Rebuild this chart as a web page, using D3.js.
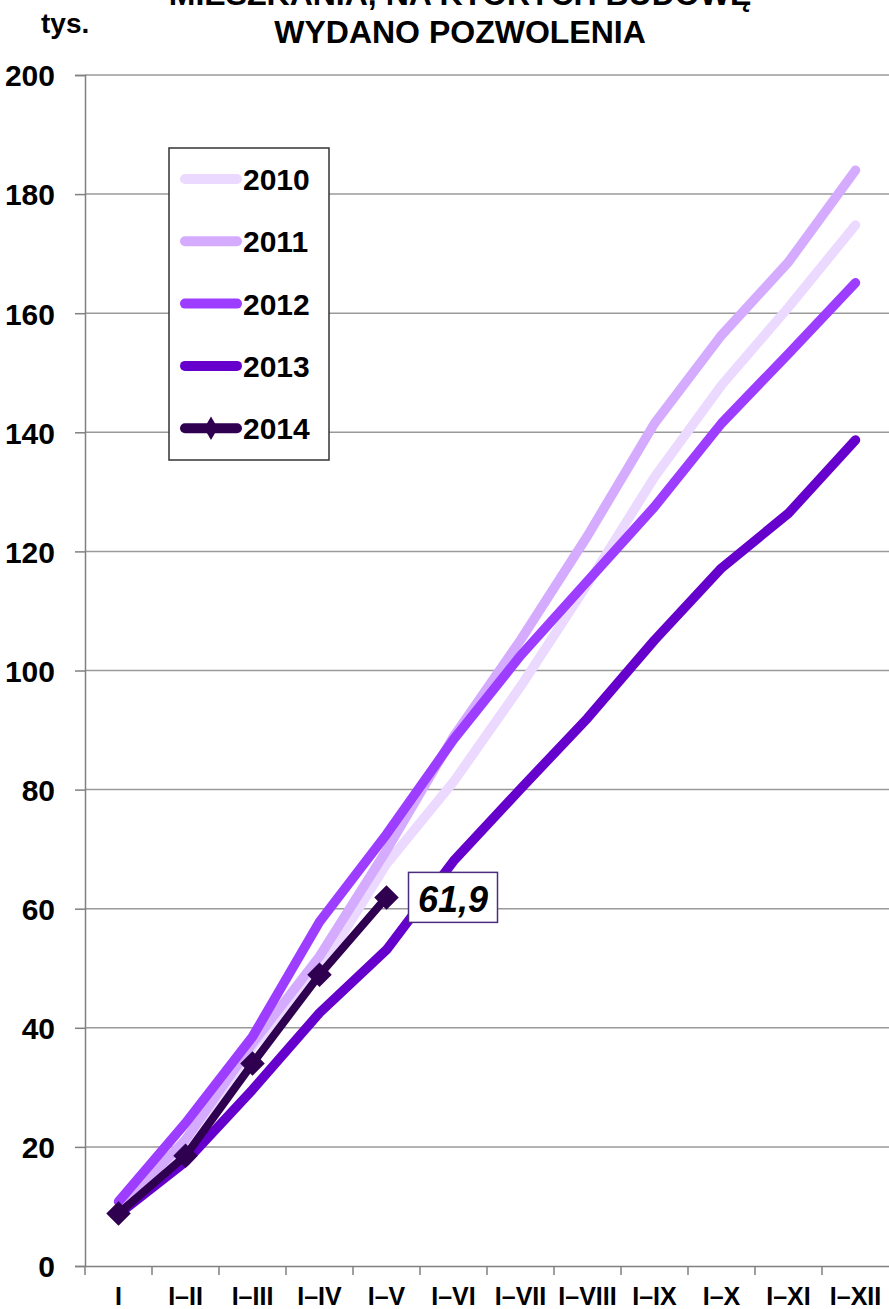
<!DOCTYPE html>
<html lang="pl">
<head>
  <meta charset="utf-8">
  <title>Mieszkania, na których budowę wydano pozwolenia</title>
  <script src="https://cdn.jsdelivr.net/npm/d3@7/dist/d3.min.js"></script>
  <style>
    body { margin: 0; background: #fff; }
    text { font-family: Arial, "Liberation Sans", sans-serif; font-weight: bold; fill: #000; }
  </style>
</head>
<body>
  <svg class="chart" width="889" height="1309"></svg>
  <script>
    var width = 889, height = 1309;
    var margin = { top: 75, right: 0, bottom: 43, left: 85 };

    var months = ["I", "I\u2013II", "I\u2013III", "I\u2013IV", "I\u2013V", "I\u2013VI",
                  "I\u2013VII", "I\u2013VIII", "I\u2013IX", "I\u2013X", "I\u2013XI", "I\u2013XII"];
    var years = ["2010", "2011", "2012", "2013", "2014"];
    var yTicks = [0, 20, 40, 60, 80, 100, 120, 140, 160, 180, 200];

    var v2010 = [9.2, 20.6, 36.8, 49.5, 67.5, 81.3, 97.3, 114.5, 132.5, 147.9, 161.0, 174.8];
    var v2011 = [9.5, 21.2, 37.4, 52.0, 69.8, 88.9, 105.1, 122.6, 141.5, 156.3, 168.6, 184.0];
    var v2012 = [10.8, 24.0, 38.5, 57.8, 72.5, 88.4, 102.5, 115.0, 127.5, 141.5, 153.2, 165.1];
    var v2013 = [8.7, 17.5, 29.6, 42.5, 53.1, 68.0, 80.1, 92.0, 105.1, 117.2, 126.4, 138.7];
    var v2014 = [8.8, 18.5, 34.0, 48.9, 61.9];

    var colors = ["#ebd9ff", "#d4abff", "#9d3dff", "#6600cc", "#2e004f"];

    var series = [v2010, v2011, v2012, v2013, v2014].map(function(vals, i) {
      return { year: years[i], color: colors[i],
               values: vals.map(function(v, j) { return { month: months[j], value: v }; }) };
    });

    var svg = d3.select("svg.chart");

    var x = d3.scaleBand()
              .domain(months)
              .range([margin.left, width - margin.right]);

    var y = d3.scaleLinear()
              .domain([0, 200])
              .range([height - margin.bottom - 0, margin.top]);

    function cx(m) { return x(m) + x.bandwidth() / 2; }

    // gridlines
    svg.append("g")
       .selectAll("line")
       .data(yTicks.slice(1))
       .enter().append("line")
       .attr("x1", margin.left).attr("x2", width - margin.right)
       .attr("y1", function(d) { return y(d); })
       .attr("y2", function(d) { return y(d); })
       .attr("stroke", "#9a9a9a")
       .attr("stroke-width", 1.5);

    // y axis
    var yAxis = svg.append("g")
                   .attr("transform", "translate(" + margin.left + ",0)")
                   .call(d3.axisLeft(y).tickValues(yTicks).tickSize(10).tickPadding(20));
    yAxis.select(".domain").attr("stroke", "#808080").attr("stroke-width", 1.5);
    yAxis.selectAll(".tick line").attr("stroke", "#808080").attr("stroke-width", 1.5);
    yAxis.selectAll(".tick text")
         .attr("font-size", 30)
         .attr("font-family", "Arial, 'Liberation Sans', sans-serif")
         .attr("font-weight", "bold")
         .attr("fill", "#000")
         .attr("dy", "0.36em");

    // x axis
    var xAxis = svg.append("g")
                   .attr("transform", "translate(0," + y(0) + ")")
                   .call(d3.axisBottom(x).tickSize(0).tickPadding(0));
    xAxis.select(".domain").attr("stroke", "#808080").attr("stroke-width", 1.5);
    xAxis.selectAll(".tick text")
         .attr("font-size", 25)
         .attr("font-family", "Arial, 'Liberation Sans', sans-serif")
         .attr("font-weight", "bold")
         .attr("fill", "#000")
         .attr("y", 39)
         .attr("dy", 0);
    xAxis.selectAll(".sep")
         .data(months)
         .enter().append("line")
         .attr("class", "sep")
         .attr("x1", function(d) { return x(d); })
         .attr("x2", function(d) { return x(d); })
         .attr("y1", 0).attr("y2", 9)
         .attr("stroke", "#808080")
         .attr("stroke-width", 1.5);

    // lines
    var line = d3.line()
                 .x(function(d) { return cx(d.month); })
                 .y(function(d) { return y(d.value); });

    svg.append("g")
       .selectAll("path")
       .data(series)
       .enter().append("path")
       .attr("d", function(d) { return line(d.values); })
       .attr("fill", "none")
       .attr("stroke", function(d) { return d.color; })
       .attr("stroke-width", function(d) { return d.year === "2014" ? 8 : 9.5; })
       .attr("stroke-linejoin", "round")
       .attr("stroke-linecap", "round");

    // 2014 markers
    var diamond = d3.symbol().type(d3.symbolSquare).size(300);
    svg.append("g")
       .selectAll("path")
       .data(series[4].values)
       .enter().append("path")
       .attr("d", diamond)
       .attr("transform", function(d) {
         return "translate(" + cx(d.month) + "," + y(d.value) + ") rotate(45)";
       })
       .attr("fill", colors[4]);

    // value label of the last 2014 point
    var last = series[4].values[series[4].values.length - 1];
    var lx = cx(last.month) + 22, ly = y(last.value);
    svg.append("rect")
       .attr("x", lx).attr("y", ly - 25)
       .attr("width", 89).attr("height", 50)
       .attr("fill", "#fff")
       .attr("stroke", "#4b2c7f")
       .attr("stroke-width", 1.5);
    svg.append("text")
       .attr("x", lx + 44.5).attr("y", ly + 15)
       .attr("text-anchor", "middle")
       .attr("font-size", 36)
       .attr("font-style", "italic")
       .text(d3.format(".1f")(last.value).replace(".", ","));

    // legend
    var legend = svg.append("g");
    legend.append("rect")
          .attr("x", 169).attr("y", 148)
          .attr("width", 160).attr("height", 312)
          .attr("fill", "#fff")
          .attr("stroke", "#333")
          .attr("stroke-width", 1.5);
    var item = legend.selectAll(".item")
                     .data(series)
                     .enter().append("g")
                     .attr("class", "item")
                     .attr("transform", function(d, i) { return "translate(0," + (179 + i * 62.3) + ")"; });
    item.append("line")
        .attr("x1", 185).attr("x2", 237)
        .attr("stroke", function(d) { return d.color; })
        .attr("stroke-width", 10)
        .attr("stroke-linecap", "round");
    item.filter(function(d) { return d.year === "2014"; })
        .append("path")
        .attr("d", d3.symbol().type(d3.symbolDiamond).size(160))
        .attr("transform", "translate(211,0)")
        .attr("fill", colors[4]);
    item.append("text")
        .attr("x", 243).attr("y", 11)
        .attr("font-size", 30)
        .text(function(d) { return d.year; });

    // titles
    svg.append("text")
       .attr("x", 460).attr("y", 5)
       .attr("text-anchor", "middle")
       .attr("font-size", 32)
       .text("MIESZKANIA, NA KTÓRYCH BUDOWĘ");
    svg.append("text")
       .attr("x", 460).attr("y", 43)
       .attr("text-anchor", "middle")
       .attr("font-size", 32)
       .text("WYDANO POZWOLENIA");
    svg.append("text")
       .attr("x", 41).attr("y", 33)
       .attr("font-size", 28)
       .text("tys.");
  </script>
</body>
</html>
